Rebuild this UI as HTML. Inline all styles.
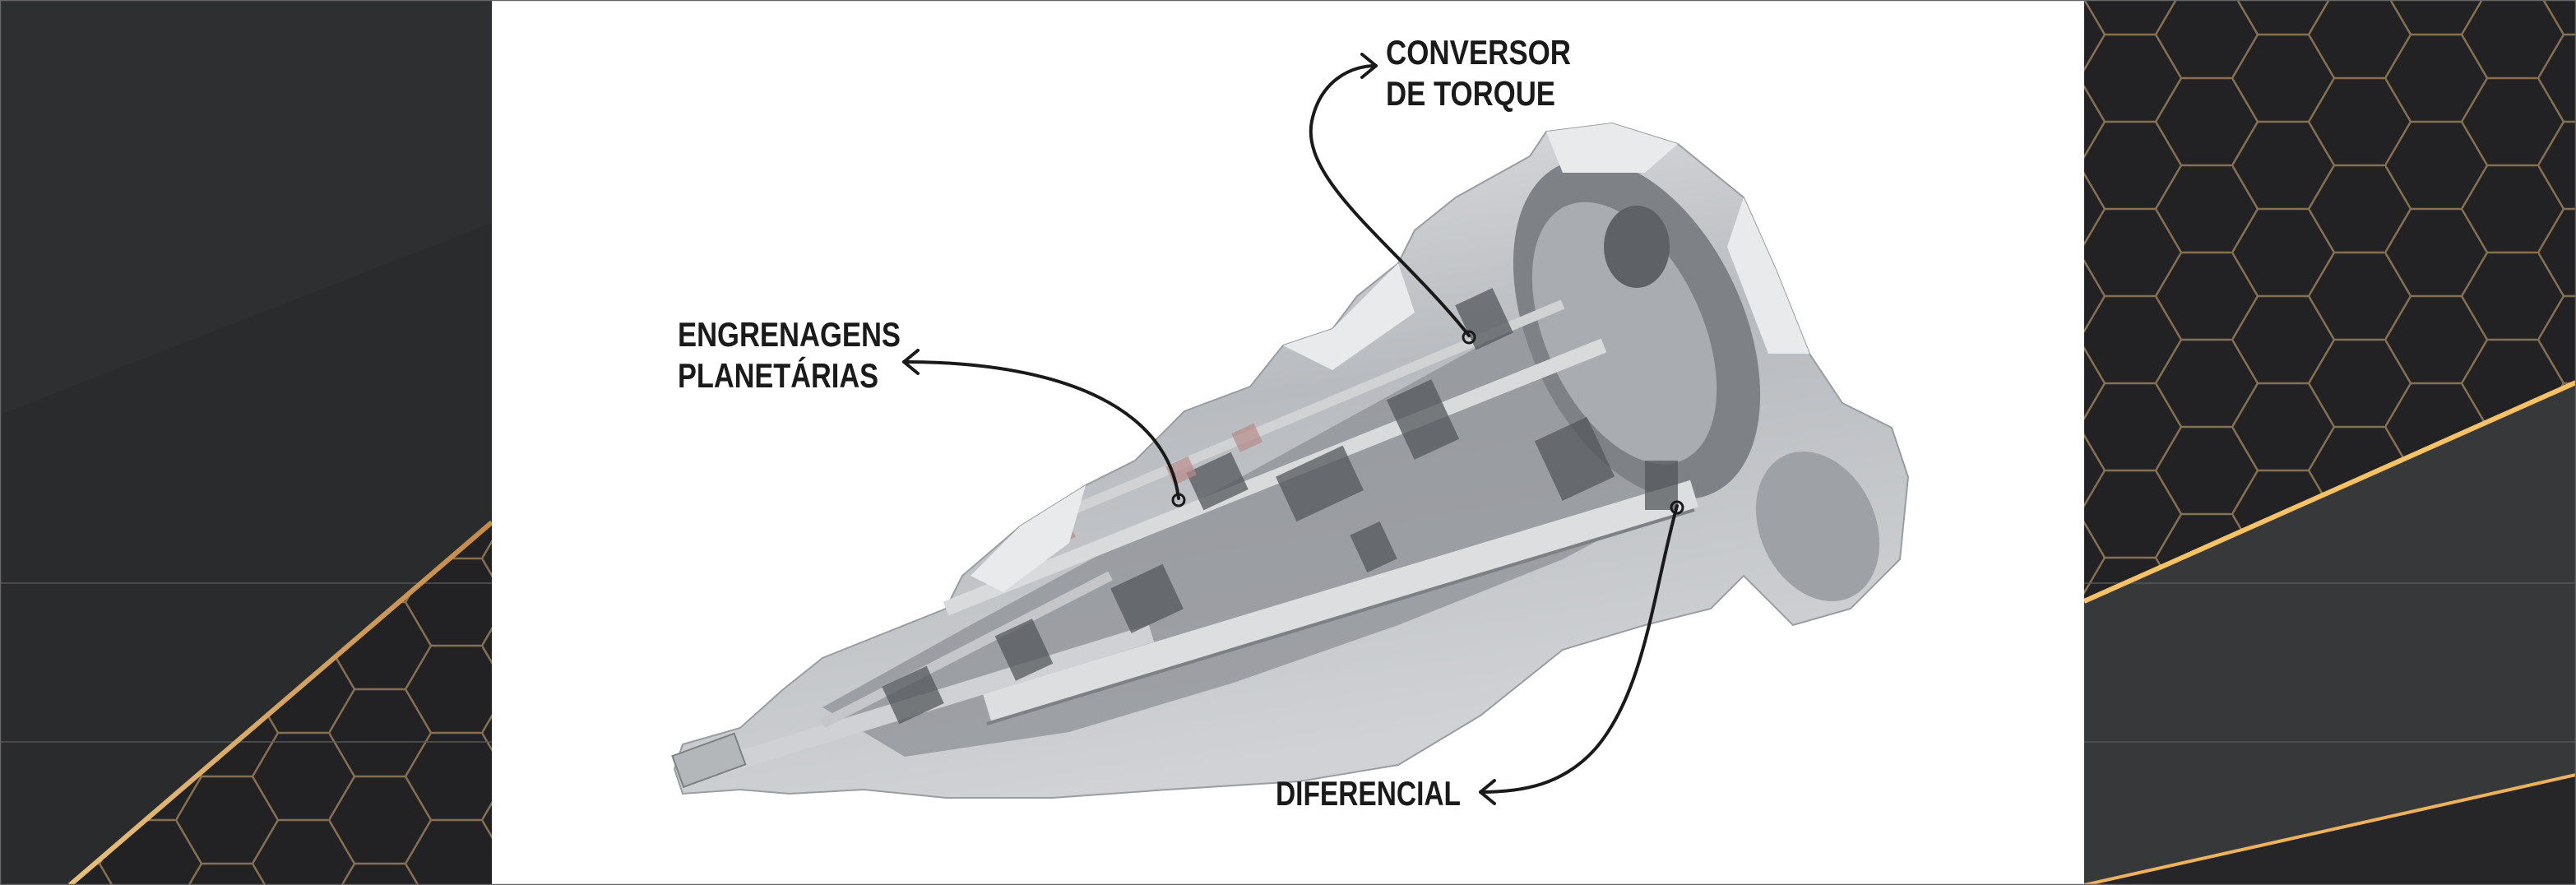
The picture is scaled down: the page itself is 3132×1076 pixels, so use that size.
<!DOCTYPE html>
<html><head><meta charset="utf-8"><style>
html,body{margin:0;padding:0;background:#fff;}
svg{display:block;}
</style></head><body>
<svg width="3132" height="1076" viewBox="0 0 3132 1076" xmlns="http://www.w3.org/2000/svg">
<defs>
<pattern id="hexL" x="400" y="838" width="186" height="106" patternUnits="userSpaceOnUse">
<path d="M31,0 L93,0 L124,53 L93,106 L31,106 L0,53 Z M124,53 L186,53" fill="none" stroke="#86704f" stroke-width="2.5"/>
</pattern>
<pattern id="hexR" x="2528" y="42" width="186" height="106" patternUnits="userSpaceOnUse">
<path d="M31,0 L93,0 L124,53 L93,106 L31,106 L0,53 Z M124,53 L186,53" fill="none" stroke="#86704f" stroke-width="2.5"/>
</pattern>
<linearGradient id="gold" x1="0" y1="1" x2="1" y2="0">
<stop offset="0" stop-color="#e8c07a"/><stop offset="1" stop-color="#c48a48"/>
</linearGradient>
<linearGradient id="body" x1="0" y1="0" x2="0.3" y2="1">
<stop offset="0" stop-color="#e4e5e7"/><stop offset="0.5" stop-color="#b8bbbf"/><stop offset="1" stop-color="#d0d2d5"/>
</linearGradient>
</defs>

<!-- left panel -->
<rect x="0" y="0" width="598" height="1076" fill="#2e2f31"/>
<polygon points="0,504 598,271 598,1076 0,1076" fill="#2a2b2d"/>
<polygon points="85,1076 598,635 598,1076" fill="#222224"/>
<polygon points="85,1076 598,635 598,1076" fill="url(#hexL)"/>
<line x1="0" y1="709" x2="598" y2="709" stroke="#555" stroke-width="1.5"/>
<line x1="0" y1="902" x2="598" y2="902" stroke="#555" stroke-width="1.5"/>
<line x1="85" y1="1076" x2="598" y2="635" stroke="url(#gold)" stroke-width="6"/>

<!-- right panel -->
<rect x="2534" y="0" width="598" height="1076" fill="#222224"/>
<rect x="2534" y="0" width="598" height="740" fill="url(#hexR)"/>
<polygon points="2534,731 3132,465 3132,1076 2534,1076" fill="#37383a"/>
<polygon points="2534,1076 3132,942 3132,1076" fill="#262628"/>
<line x1="2534" y1="709" x2="3132" y2="709" stroke="#555" stroke-width="1.5"/>
<line x1="2534" y1="902" x2="3132" y2="902" stroke="#555" stroke-width="1.5"/>
<line x1="2534" y1="731" x2="3132" y2="465" stroke="#f6c265" stroke-width="6"/>
<line x1="2534" y1="1076" x2="3132" y2="942" stroke="#eeb25a" stroke-width="4"/>

<!-- center -->
<rect x="598" y="0" width="1936" height="1076" fill="#ffffff"/>

<!-- transmission silhouette -->
<polygon points="820,935 830,905 900,885 950,840 1000,800 1150,740 1170,700 1240,640 1320,590 1380,560 1440,500 1520,470 1560,420 1620,400 1650,360 1700,320 1720,280 1770,240 1860,190 1880,160 1960,150 2040,175 2120,240 2160,330 2200,430 2240,490 2300,520 2320,580 2310,680 2250,740 2180,760 2120,700 2080,740 2000,760 1900,790 1800,870 1700,930 1580,950 1420,960 1280,970 1150,970 1050,960 960,965 900,960 830,965" fill="url(#body)" stroke="#9a9da1" stroke-width="2"/>
<!-- dark interior band -->
<polygon points="1000,860 1180,760 1400,640 1600,530 1800,420 1900,350 2050,330 2120,480 2050,600 1900,680 1700,760 1500,830 1300,890 1100,920" fill="#8d9095" opacity="0.75"/>
<!-- housing bell -->
<ellipse cx="1990" cy="400" rx="130" ry="220" transform="rotate(-25 1990 400)" fill="#7e8186"/>
<ellipse cx="1975" cy="405" rx="95" ry="170" transform="rotate(-25 1975 405)" fill="#a9acb0"/>
<ellipse cx="1990" cy="300" rx="40" ry="50" fill="#5e6166"/>
<ellipse cx="2210" cy="640" rx="70" ry="95" transform="rotate(-25 2210 640)" fill="#9ea1a6"/>
<!-- internal shafts -->
<g stroke-linecap="butt" fill="none">
<line x1="1150" y1="740" x2="1950" y2="420" stroke="#d8dadc" stroke-width="18"/>
<line x1="1280" y1="630" x2="1900" y2="370" stroke="#d0d2d4" stroke-width="12"/>
<line x1="1200" y1="860" x2="2060" y2="600" stroke="#dcdedf" stroke-width="34"/>
<line x1="1200" y1="880" x2="2060" y2="620" stroke="#7d8084" stroke-width="4"/>
<line x1="880" y1="930" x2="1400" y2="770" stroke="#cfd1d4" stroke-width="22"/>
<line x1="1000" y1="880" x2="1350" y2="700" stroke="#c4c6c9" stroke-width="12"/>
</g>
<g fill="#55585c" opacity="0.75">
<rect x="1450" y="560" width="60" height="50" transform="rotate(-25 1480 585)"/>
<rect x="1560" y="560" width="90" height="60" transform="rotate(-25 1600 590)"/>
<rect x="1700" y="470" width="60" height="80" transform="rotate(-25 1730 510)"/>
<rect x="1360" y="700" width="70" height="60" transform="rotate(-25 1390 730)"/>
<rect x="1780" y="360" width="50" height="60" transform="rotate(-25 1800 390)"/>
<rect x="1880" y="520" width="70" height="80" transform="rotate(-25 1910 560)"/>
<rect x="1080" y="820" width="60" height="50" transform="rotate(-25 1110 845)"/>
<rect x="1220" y="760" width="50" height="60" transform="rotate(-25 1245 790)"/>
<rect x="1650" y="640" width="40" height="50" transform="rotate(-25 1670 665)"/>
<rect x="2000" y="560" width="40" height="60"/>
</g>
<g fill="#b88a8a" opacity="0.7">
<rect x="1500" y="520" width="30" height="25" transform="rotate(-25 1515 530)"/>
<rect x="1420" y="560" width="30" height="25" transform="rotate(-25 1435 570)"/>
<rect x="1280" y="640" width="25" height="20" transform="rotate(-25 1290 650)"/>
</g>
<g fill="#e9eaeb">
<polygon points="1180,700 1240,640 1320,590 1300,660 1220,720"/>
<polygon points="1560,420 1620,400 1700,320 1720,380 1620,450"/>
<polygon points="1880,160 1960,150 2040,175 2000,210 1900,210"/>
<polygon points="2120,240 2160,330 2200,430 2150,430 2100,300"/>
</g>
<rect x="822" y="905" width="80" height="40" transform="rotate(-20 860 925)" fill="#b4b7ba" stroke="#7d8084" stroke-width="2"/>

<!-- connectors -->
<g fill="none" stroke="#1a1a1a" stroke-width="4" stroke-linecap="round" stroke-linejoin="round">
<path d="M1786,408 C1700,300 1580,220 1595,147 C1605,100 1640,80 1673,80"/>
<path d="M1656,66 L1673,80 L1656,94"/>
<path d="M1433,606 C1420,500 1300,440 1099,440"/>
<path d="M1116,426 L1099,440 L1116,454"/>
<path d="M2039,615 C2010,720 2000,840 1940,910 C1900,955 1850,963 1800,963"/>
<path d="M1817,949 L1800,963 L1817,977"/>
</g>
<g fill="none" stroke="#1a1a1a" stroke-width="3">
<circle cx="1786" cy="410" r="7"/>
<circle cx="1433" cy="608" r="7"/>
<circle cx="2039" cy="617" r="7"/>
</g>

<!-- labels -->
<g font-family="'Liberation Sans Narrow','Liberation Sans',sans-serif" font-size="42" font-weight="bold" fill="#1a1a1a">
<text x="1685" y="78" textLength="225" lengthAdjust="spacingAndGlyphs">CONVERSOR</text>
<text x="1685" y="128" textLength="206" lengthAdjust="spacingAndGlyphs">DE TORQUE</text>
<text x="824" y="421" textLength="271" lengthAdjust="spacingAndGlyphs">ENGRENAGENS</text>
<text x="824" y="471" textLength="244" lengthAdjust="spacingAndGlyphs">PLANETÁRIAS</text>
<text x="1551" y="979" textLength="225" lengthAdjust="spacingAndGlyphs">DIFERENCIAL</text>
</g>

<rect x="0.5" y="0.5" width="3131" height="1075" fill="none" stroke="#666" stroke-width="1.5"/>
</svg>
</body></html>
